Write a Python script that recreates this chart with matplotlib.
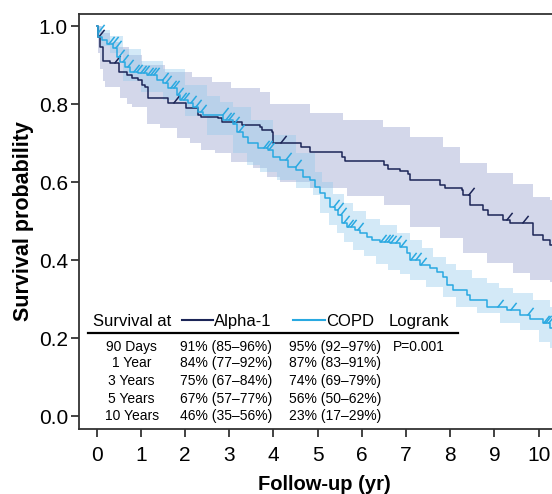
import numpy as np
import matplotlib
matplotlib.use("Agg")
import matplotlib.pyplot as plt
from matplotlib.path import Path

plt.rcParams['font.family'] = ['Liberation Sans', 'DejaVu Sans']

# Kaplan-Meier curves (step times in years, survival)
a_time = [0, 0.02, 0.08, 0.15, 0.30, 0.51, 0.68, 0.79, 0.94, 1.02, 1.09, 1.17, 1.62, 2.03, 2.30,
          2.37, 2.75, 2.83, 3.28, 3.70, 3.73, 3.96, 4.00, 4.63, 4.83, 5.56, 5.62, 6.49, 6.58, 6.86,
          7.05, 7.09, 7.77, 7.88, 8.26, 8.29, 8.45, 8.75, 8.86, 9.20, 9.35, 9.88, 10.10, 10.25, 10.45]
a_surv = [1.0, 0.973, 0.947, 0.91, 0.904, 0.883, 0.874, 0.866, 0.862, 0.849, 0.843, 0.815, 0.802, 0.79, 0.772,
          0.767, 0.763, 0.755, 0.746, 0.742, 0.733, 0.729, 0.70, 0.69, 0.678, 0.665, 0.654, 0.644, 0.633, 0.629,
          0.621, 0.605, 0.592, 0.584, 0.579, 0.567, 0.54, 0.528, 0.515, 0.503, 0.494, 0.464, 0.451, 0.438, 0.438]
a_cens = [0.02, 0.40, 1.72, 4.15, 8.40, 9.25, 9.62]

c_time = [0, 0.02, 0.04, 0.11, 0.23, 0.38, 0.45, 0.53, 0.64, 0.75, 0.94, 1.13, 1.36, 1.51, 1.62,
          1.81, 1.88, 2.07, 2.19, 2.30, 2.41, 2.86, 3.09, 3.17, 3.32, 3.43, 3.66, 3.88, 4.00, 4.15,
          4.34, 4.52, 4.67, 4.83, 4.94, 5.05, 5.17, 5.28, 5.39, 5.46, 5.54, 5.66, 5.84, 5.96, 6.11,
          6.22, 6.41, 6.64, 6.86, 7.01, 7.09, 7.31, 7.54, 7.69, 7.84, 7.92, 8.07, 8.37, 8.45, 8.82,
          9.28, 9.58, 9.80, 10.10, 10.25, 10.45]
c_surv = [1.0, 0.985, 0.973, 0.964, 0.955, 0.943, 0.921, 0.908, 0.895, 0.883, 0.879, 0.874, 0.862, 0.853, 0.84,
          0.823, 0.81, 0.802, 0.793, 0.78, 0.772, 0.759, 0.75, 0.729, 0.716, 0.70, 0.686, 0.682, 0.665, 0.656,
          0.639, 0.631, 0.613, 0.605, 0.588, 0.571, 0.559, 0.537, 0.528, 0.515, 0.494, 0.485, 0.477, 0.469, 0.46,
          0.451, 0.447, 0.443, 0.434, 0.417, 0.40, 0.387, 0.379, 0.37, 0.357, 0.336, 0.323, 0.31, 0.297, 0.28,
          0.272, 0.259, 0.25, 0.238, 0.226, 0.226]
c_cens = [0.02, 0.26, 0.34, 0.41, 0.49, 0.57, 0.68, 0.83, 0.90, 0.98, 1.05, 1.13, 1.21, 1.28, 1.47,
          1.55, 1.66, 1.73, 1.81, 1.88, 1.96, 2.11, 2.22, 2.34, 2.83, 2.90, 2.98, 3.09, 3.20, 3.77,
          3.83, 3.88, 4.26, 4.49, 5.35, 5.43, 5.51, 5.58, 5.66, 5.73, 5.88, 6.41, 6.49, 6.56, 6.64,
          6.75, 6.86, 7.09, 7.20, 7.31, 9.05, 9.35, 9.73, 10.10, 10.15, 10.20]

# confidence bands (step functions)
a_hi_t = [0, 0.11, 0.30, 0.50, 0.72, 1.02, 1.55, 2.15, 2.60, 3.05, 3.70, 3.92, 4.83, 5.58, 6.48,
          7.09, 7.84, 8.22, 8.82, 9.42, 9.87, 10.25, 10.45]
a_hi = [1.0, 0.983, 0.96, 0.945, 0.926, 0.90, 0.883, 0.87, 0.857, 0.84, 0.832, 0.80, 0.778, 0.76, 0.742,
        0.716, 0.69, 0.648, 0.622, 0.596, 0.562, 0.554, 0.554]
a_lo_t = [0, 0.03, 0.08, 0.15, 0.19, 0.53, 0.68, 0.79, 1.13, 1.43, 1.81, 2.11, 2.37, 2.68, 3.05,
          3.54, 3.85, 4.15, 4.83, 5.66, 6.49, 7.09, 7.77, 8.29, 8.82, 9.42, 9.80, 10.25, 10.45]
a_lo = [0.97, 0.93, 0.89, 0.86, 0.844, 0.815, 0.80, 0.793, 0.75, 0.738, 0.712, 0.70, 0.682, 0.674, 0.652,
        0.635, 0.613, 0.60, 0.584, 0.563, 0.542, 0.485, 0.456, 0.417, 0.392, 0.366, 0.349, 0.344, 0.344]
c_hi_t = [0, 0.10, 0.30, 0.60, 1.00, 1.50, 2.00, 2.50, 2.79, 3.09, 3.50, 4.00, 4.50, 4.94, 5.10,
          5.35, 5.60, 5.80, 6.10, 6.41, 6.80, 7.09, 7.35, 7.61, 7.90, 8.14, 8.50, 8.82, 9.10, 9.42,
          9.87, 10.25, 10.45]
c_hi = [1.0, 0.99, 0.975, 0.94, 0.91, 0.89, 0.85, 0.82, 0.806, 0.793, 0.76, 0.72, 0.675, 0.625, 0.60,
        0.57, 0.545, 0.525, 0.505, 0.49, 0.47, 0.451, 0.43, 0.408, 0.39, 0.374, 0.355, 0.34, 0.328, 0.315,
        0.297, 0.28, 0.28]
c_lo_t = [0, 0.10, 0.30, 0.60, 1.00, 1.50, 2.00, 2.50, 3.09, 3.39, 3.70, 4.07, 4.50, 4.90, 5.05,
          5.25, 5.43, 5.60, 5.80, 6.05, 6.33, 6.60, 6.86, 7.09, 7.45, 7.84, 8.14, 8.60, 9.12, 9.57,
          10.00, 10.25, 10.45]
c_lo = [0.98, 0.95, 0.93, 0.86, 0.83, 0.81, 0.77, 0.72, 0.675, 0.644, 0.625, 0.605, 0.585, 0.567, 0.52,
        0.49, 0.47, 0.445, 0.426, 0.41, 0.39, 0.375, 0.365, 0.349, 0.33, 0.306, 0.28, 0.263, 0.238, 0.22,
        0.19, 0.175, 0.175]

# table
row_labels = ['90 Days', '1 Year', '3 Years', '5 Years', '10 Years']
alpha_txt = ['91% (85–96%)', '84% (77–92%)', '75% (67–84%)', '67% (57–77%)', '46% (35–56%)']
copd_txt = ['95% (92–97%)', '87% (83–91%)', '74% (69–79%)', '56% (50–62%)', '23% (17–29%)']
logrank_txt = 'P=0.001'

DARK = '#1c2557'
LIGHT = '#29a9e1'


def step_at(times, vals, x):
    idx = np.searchsorted(np.asarray(times), np.asarray(x), side='right') - 1
    return np.asarray(vals)[np.clip(idx, 0, len(vals) - 1)]


fig = plt.figure(figsize=(5.52, 4.94), dpi=100)
ax = fig.add_axes([79 / 552, 65 / 494, 490.6 / 552, 415 / 494])

# bands
grid = np.union1d(a_hi_t, a_lo_t)
ax.fill_between(grid, step_at(a_lo_t, a_lo, grid), step_at(a_hi_t, a_hi, grid),
                step='post', color='#d3d7ea', lw=0, zorder=1)
grid = np.union1d(c_hi_t, c_lo_t)
ax.fill_between(grid, step_at(c_lo_t, c_lo, grid), step_at(c_hi_t, c_hi, grid),
                step='post', color='#93c8eb', alpha=0.4, lw=0, zorder=2)

# censor tick marker
tick = Path([(0, 0), (0.8, 1)], [Path.MOVETO, Path.LINETO])

ax.step(a_time, a_surv, where='post', color=DARK, lw=1.1, zorder=3)
ax.plot(a_cens, step_at(a_time, a_surv, a_cens), ls='none', marker=tick, ms=11,
        mec=DARK, mfc='none', mew=1.1, zorder=3)
ax.step(c_time, c_surv, where='post', color=LIGHT, lw=1.1, zorder=4)
ax.plot(c_cens, step_at(c_time, c_surv, c_cens), ls='none', marker=tick, ms=11,
        mec=LIGHT, mfc='none', mew=1.1, zorder=4)

ax.set_xlim(-0.4, 10.7)
ax.set_ylim(-0.0333, 1.0308)
ax.set_xticks(range(0, 11))
ax.set_yticks([0, 0.2, 0.4, 0.6, 0.8, 1.0])
ax.set_yticklabels(['0.0', '0.2', '0.4', '0.6', '0.8', '1.0'])
ax.tick_params(labelsize=15, length=6, width=1.3, color='#333333')
ax.tick_params(axis='x', pad=6)
ax.tick_params(axis='y', pad=2)
for s in ax.spines.values():
    s.set_color('#333333')
    s.set_linewidth(1.3)
ax.set_xlabel('Follow-up (yr)', fontsize=14.5, fontweight='bold', labelpad=7.5)
ax.set_ylabel('Survival probability', fontsize=15.5, fontweight='bold', labelpad=3)

# survival table
hy = 0.242
ax.text(-0.084, hy, 'Survival at', fontsize=12, va='center', zorder=5)
ax.plot([1.92, 2.63], [hy + 0.003] * 2, color=DARK, lw=1.5, zorder=5)
ax.text(2.65, hy, 'Alpha-1', fontsize=12, va='center', zorder=5)
ax.plot([4.44, 5.17], [hy + 0.003] * 2, color=LIGHT, lw=1.5, zorder=5)
ax.text(5.19, hy, 'COPD', fontsize=12, va='center', zorder=5)
ax.text(6.61, hy, 'Logrank', fontsize=12, va='center', zorder=5)
ax.plot([-0.2, 8.17], [0.212, 0.212], color='black', lw=1.6, zorder=5)
rows_y = [0.178, 0.135, 0.0895, 0.0445, -0.001]
for i in range(len(row_labels)):
    ax.text(0.79, rows_y[i], row_labels[i], fontsize=10, ha='center', va='center', zorder=5)
    ax.text(1.885, rows_y[i], alpha_txt[i], fontsize=10, va='center', zorder=5)
    ax.text(4.36, rows_y[i], copd_txt[i], fontsize=10, va='center', zorder=5)
ax.text(6.70, rows_y[0], logrank_txt, fontsize=10, va='center', zorder=5)

fig.savefig('out.png', dpi=100)
